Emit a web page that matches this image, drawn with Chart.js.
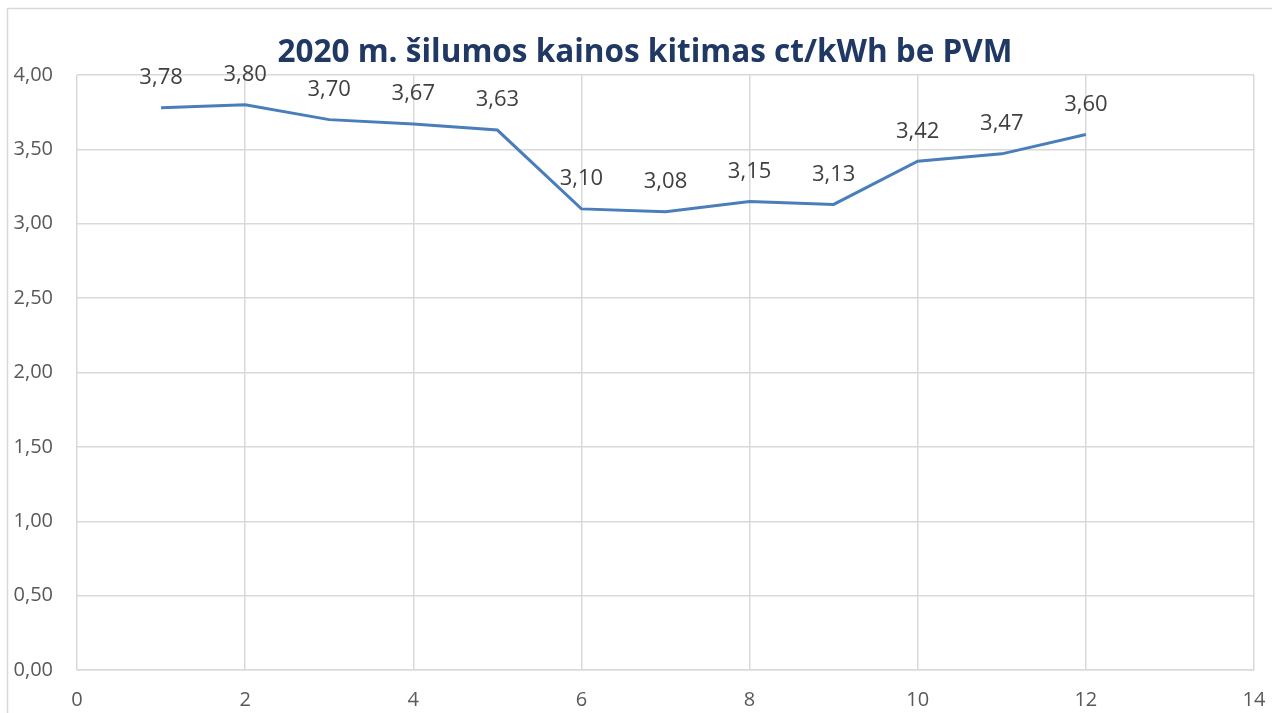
<!DOCTYPE html>
<html>
<head>
<meta charset="utf-8">
<script src="https://cdn.jsdelivr.net/npm/chart.js@4/dist/chart.umd.min.js"></script>
<style>
  html, body { margin: 0; padding: 0; background: #fff; }
  #wrap { width: 1272px; height: 713px; position: relative; }
</style>
</head>
<body>
<div id="wrap"><canvas id="chart_1"></canvas></div>
<script>
// 2020 m. šilumos kainos kitimas
var months = [1, 2, 3, 4, 5, 6, 7, 8, 9, 10, 11, 12];
var prices = [3.78, 3.80, 3.70, 3.67, 3.63, 3.10, 3.08, 3.15, 3.13, 3.42, 3.47, 3.60];
var titleText = '2020 m. šilumos kainos kitimas ct/kWh be PVM';

function fmt(v) {
    return v.toFixed(2).replace('.', ',');
}

// chart border, title and value labels
var extras = {
    id: 'extras',
    beforeDraw: function (chart) {
        var c = chart.ctx;
        c.save();
        c.fillStyle = '#fff';
        c.fillRect(0, 0, chart.width, chart.height);
        c.strokeStyle = '#d9d9d9';
        c.lineWidth = 1.5;
        c.strokeRect(7.5, 8.5, 1400, 900);
        c.restore();
    },
    afterDraw: function (chart) {
        var c = chart.ctx;
        c.save();
        c.fillStyle = '#203864';
        c.font = 'bold 31.5px "Open Sans"';
        c.textAlign = 'center';
        c.textBaseline = 'middle';
        c.fillText(titleText, 645, 53);

        c.fillStyle = '#404040';
        c.font = '22px "Open Sans"';
        var meta = chart.getDatasetMeta(0);
        meta.data.forEach(function (pt, i) {
            c.fillText(fmt(prices[i]), pt.x, pt.y - 30);
        });
        c.restore();
    }
};

var ctx = document.getElementById('chart_1').getContext('2d');
var myChart = new Chart(ctx, {
    type: 'line',
    data: {
        datasets: [{
            data: months.map(function (m, i) { return { x: m, y: prices[i] }; }),
            borderColor: '#4a7ebb',
            borderWidth: 3,
            pointRadius: 0,
            tension: 0
        }]
    },
    options: {
        responsive: true,
        maintainAspectRatio: false,
        animation: false,
        layout: { padding: { left: 0, top: 75, right: 18, bottom: 0 } },
        plugins: {
            legend: { display: false },
            title: { display: false },
            tooltip: { enabled: false }
        },
        scales: {
            x: {
                type: 'linear',
                min: 0,
                max: 14,
                ticks: {
                    stepSize: 2,
                    color: '#595959',
                    font: { family: 'Open Sans', size: 20 },
                    padding: 18
                },
                grid: { color: '#d9d9d9', lineWidth: 1.5, drawTicks: false },
                border: { color: '#d9d9d9', width: 1.5 },
                afterFit: function (s) {
                    s.height = 43;
                    s.paddingLeft = 0;
                    s.paddingRight = 0;
                }
            },
            y: {
                min: 0,
                max: 4,
                ticks: {
                    stepSize: 0.5,
                    color: '#595959',
                    font: { family: 'Open Sans', size: 20 },
                    padding: 24,
                    callback: function (v) { return fmt(v); }
                },
                grid: { color: '#d9d9d9', lineWidth: 1.5, drawTicks: false },
                border: { display: false },
                afterFit: function (s) {
                    s.width = 77;
                    s.paddingTop = 0;
                    s.paddingBottom = 0;
                }
            }
        }
    },
    plugins: [extras]
});
</script>
</body>
</html>
